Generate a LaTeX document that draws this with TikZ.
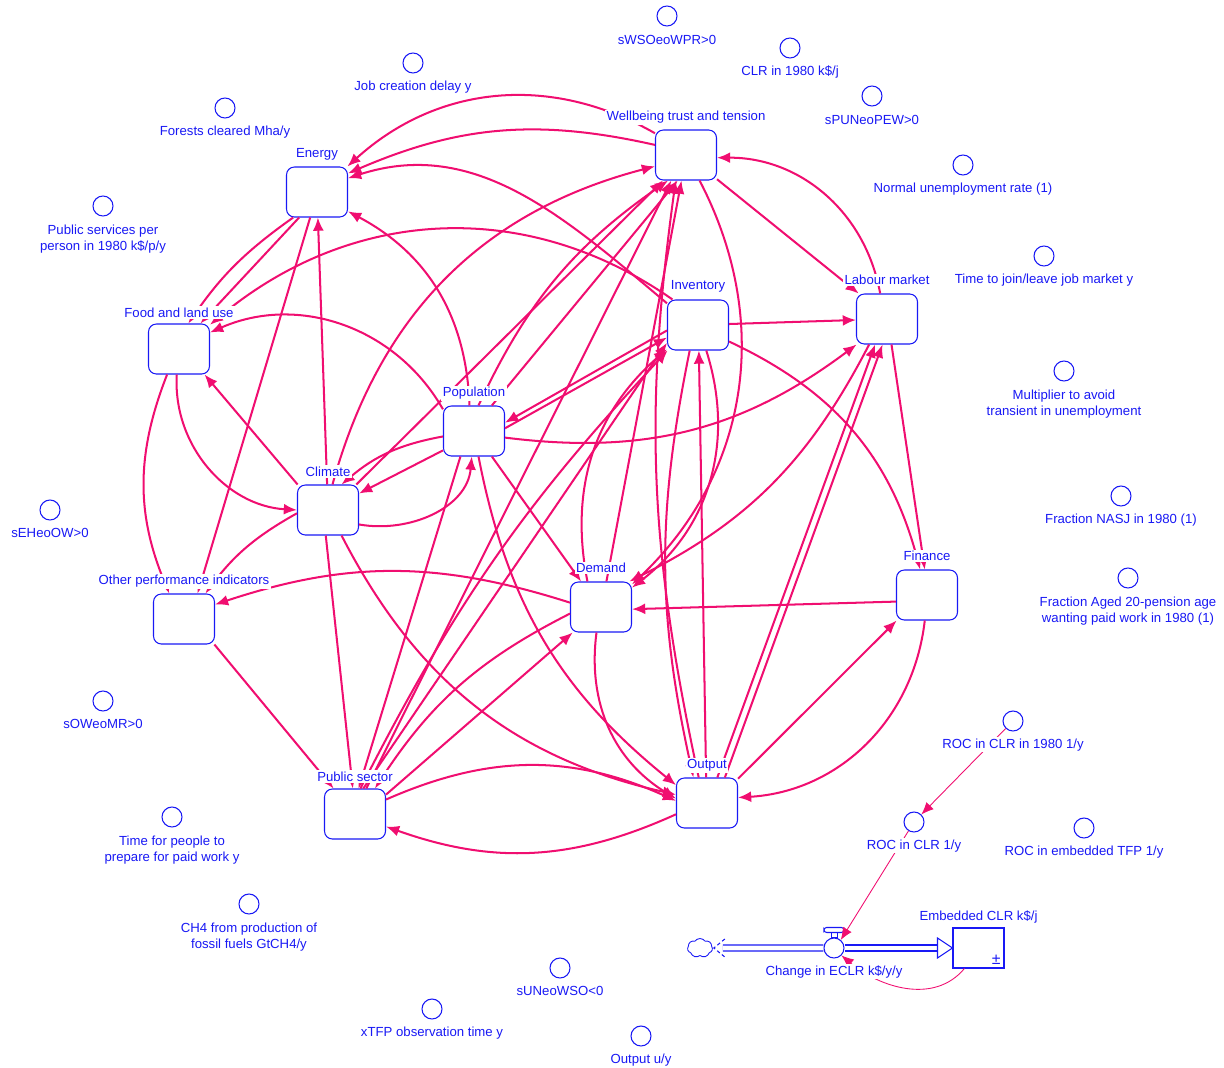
\documentclass[tikz,border=0pt]{standalone}
\usepackage{fontspec}
\setmainfont{Liberation Sans}
\usetikzlibrary{positioning,calc,arrows.meta,shapes.symbols}
\definecolor{vblue}{RGB}{25,25,245}
\definecolor{linkpink}{RGB}{240,14,112}
\newcommand\vsfont{\fontsize{7.5}{9}\selectfont}
\tikzset{
  sector/.style={draw=vblue, line width=0.6pt, rounded corners=4.5pt, fill=white,
    minimum width=1.22cm, minimum height=1cm, inner sep=0pt},
  sname/.style={text=vblue, fill=white, inner sep=0.8pt, font=\vsfont, align=center},
  aux/.style={circle, draw=vblue, line width=0.6pt, fill=white, minimum size=0.4cm, inner sep=0pt},
  link/.style={draw=linkpink, line width=1.15pt, -{Latex[length=7.5pt,width=6.2pt]}},
  thinlink/.style={draw=linkpink, line width=0.5pt, -{Latex[length=7pt,width=5.8pt]}},
  pipe/.style={draw=vblue, double=white, double distance=2.8pt, line width=0.6pt},
}
\begin{document}
\begin{tikzpicture}[x=0.02cm, y=-0.02cm]
\useasboundingbox (0,0) rectangle (1224,1068);

% sectors
\node[sector] (en) at (317,192) {};
\node[sector] (wb) at (686,155) {};
\node[sector] (fl) at (179,349) {};
\node[sector] (inv) at (698,325) {};
\node[sector] (lm) at (887,319) {};
\node[sector] (pop) at (474,431) {};
\node[sector] (cl) at (328,510) {};
\node[sector] (dem) at (601,607) {};
\node[sector] (fin) at (927,595) {};
\node[sector] (opi) at (184,619) {};
\node[sector] (ps) at (355,814) {};
\node[sector] (out) at (707,803) {};

% auxiliaries
\node[aux] (wso) at (667,16) {};
\node[aux] (clr80) at (790,48) {};
\node[aux] (jcd) at (413,63) {};
\node[aux] (pun) at (872,96) {};
\node[aux] (forest) at (225,108) {};
\node[aux] (nur) at (963,165) {};
\node[aux] (psp) at (103,206) {};
\node[aux] (tjl) at (1044,256) {};
\node[aux] (mult) at (1064,371) {};
\node[aux] (nasj) at (1121,496) {};
\node[aux] (eh) at (50,510) {};
\node[aux] (aged) at (1128,578) {};
\node[aux] (ow) at (103,701) {};
\node[aux] (roc80) at (1013,721) {};
\node[aux] (roc) at (914,822) {};
\node[aux] (roctfp) at (1084,828) {};
\node[aux] (tpp) at (172,817) {};
\node[aux] (ch4) at (249,904) {};
\node[aux] (une) at (560,968) {};
\node[aux] (xtfp) at (432,1009) {};
\node[aux] (outu) at (641,1036) {};

% stock and flow
\node[cloud, cloud puffs=7, cloud puff arc=110, draw=vblue, line width=0.5pt,
  minimum width=0.5cm, minimum height=0.38cm, inner sep=0pt] (src) at (700,948) {};
\node[aux] (valve) at (834,948) {};
\node[draw=vblue, line width=0.6pt, minimum width=1.02cm, minimum height=0.8cm] (stock) at (978.5,948) {};
\node[text=vblue, font=\fontsize{9}{10}\selectfont, anchor=south east, inner sep=2pt] (pm) at (stock.south east) {±};
\coordinate (pipestart) at ($(src.east)+(10,0)$);
\coordinate (tipbase) at ($(stock.west)+(-15,0)$);
\draw[pipe] (pipestart) -- (valve.west);
\draw[pipe] (valve.east) -- (tipbase);
\draw[draw=vblue, fill=white, line width=0.6pt] ($(tipbase)+(0,-10)$) -- (stock.west) -- ($(tipbase)+(0,10)$) -- cycle;
\draw[draw=vblue, line width=0.6pt, dashed, dash pattern=on 2pt off 1.5pt] ($(pipestart)+(2,-9)$) -- ($(src.east)+(1,0)$) -- ($(pipestart)+(2,9)$);
\draw[draw=vblue, line width=0.5pt] ($(valve.north)+(-3,0)$) rectangle ($(valve.north)+(3,-5)$);
\draw[draw=vblue, line width=0.6pt, fill=white, rounded corners=1.5pt] ($(valve.north)+(-10,-5)$) rectangle ($(valve.north)+(10,-10)$);

% links
\draw[link] (wb.145) to[bend right=36] (en.40);
\draw[link] (wb.162) to[bend right=18] (en.31);
\draw[link] (inv.145) to[out=140, in=18] (en.24);
\draw[link] (cl) -- (en);
\draw[link] (pop.100) to[bend right=30] (en.-32);
\draw[link] (en.-105) -- (opi.62);
\draw[link] (en.-133) to[bend right=10] (fl.70);
\draw[link] (en.-125) -- (fl.50);
\draw[link] (inv.135) to[out=145, in=40] (fl.38);
\draw[link] (pop.145) to[bend right=42] (fl.28);
\draw[link] (cl.140) -- (fl.-45);
\draw[link] (fl.-95) to[bend right=45] (cl.180);
\draw[link] (fl.-115) to[bend right=22] (opi.120);
\draw[link] (pop.-148) -- (cl.28);
\draw[link] (cl.-25) to[out=-10, in=-95] (pop.-95);
\draw[link] (pop.-170) to[bend right=15] (cl.62);
\draw[link] (cl.80) to[bend left=30] (wb.-160);
\draw[link] (cl.42) -- (wb.-132);
\draw[link] (cl.-174) to[bend right=12] (opi.50);
\draw[link] (cl.-95) -- (ps.95);
\draw[link] (cl.-62) to[bend right=25] (out.165);
\draw[link] (pop.-12) to[bend right=22] (lm.-140);
\draw[link] (pop.-55) -- (dem.128);
\draw[link] (pop.-80) to[bend right=20] (out.150);
\draw[link] (pop.80) to[bend left=15] (wb.-125);
\draw[link] (pop.55) -- (wb.-108);
\draw[link] (inv.-170) -- (pop.15);
\draw[link] (pop.5) -- (inv.-158);
\draw[link] (ps.72) -- (inv.-150);
\draw[link] (ps.78) to[bend left=8] (inv.-140);
\draw[link] (ps.66) -- (wb.-120);
\draw[link] (dem.118) to[bend left=30] (inv.-142);
\draw[link] (inv) -- (lm);
\draw[link] (inv.-28) to[bend left=25] (fin.105);
\draw[link] (out.92) -- (inv.-88);
\draw[link] (inv.-108) to[bend right=12] (out.118);
\draw[link] (inv.-72) to[bend left=35] (dem.32);
\draw[link] (dem.78) -- (wb.-100);
\draw[link] (wb.-62) to[bend left=37] (dem.36);
\draw[link] (out.108) to[bend left=10] (wb.-112);
\draw[link] (wb.-38) -- (lm.138);
\draw[link] (lm.105) to[bend right=40] (wb.-5);
\draw[link] (lm.-80) -- (fin.95);
\draw[link] (out.68) -- (lm.-115);
\draw[link] (out.55) -- (lm.-100);
\draw[link] (lm.-125) to[bend left=18] (dem.42);
\draw[link] (fin.-168) -- (dem.-4);
\draw[link] (out.38) -- (fin.-140);
\draw[link] (fin.-95) to[bend left=40] (out.10);
\draw[link] (dem.172) to[bend right=18] (opi.25);
\draw[link] (dem.-100) to[bend right=33] (out.172);
\draw[link] (ps.32) -- (dem.-138);
\draw[link] (dem.-168) to[bend right=15] (ps.52);
\draw[link] (out.-160) to[bend left=22] (ps.-22);
\draw[link] (ps.25) to[bend left=24] (out.176);
\draw[link] (opi.-40) -- (ps.130);
\draw[link] (pop.-118) -- (ps.82);

% thin links in the stock and flow part
\draw[thinlink] (roc80) -- (roc);
\draw[thinlink] (roc) -- (valve.50);
\draw[thinlink] ([xshift=6.8pt]stock.south west) to[out=-130, in=-40] (valve.-45);

% sector names
\node[sname, above=2.5pt of en] {Energy};
\node[sname, above=2.5pt of wb] {Wellbeing trust and tension};
\node[sname, above=2.5pt of fl] {Food and land use};
\node[sname, above=3pt of inv] {Inventory};
\node[sname, above=4pt of lm] {Labour market};
\node[sname, above=2.5pt of pop] {Population};
\node[sname, above=3.5pt of cl] {Climate};
\node[sname, above=4pt of dem] {Demand};
\node[sname, above=4pt of fin] {Finance};
\node[sname, above=2.5pt of opi] {Other performance indicators};
\node[sname, above=3pt of ps] {Public sector};
\node[sname, above=2.5pt of out] {Output};

% auxiliary names
\node[sname, below=4pt of wso] {sWSOeoWPR>0};
\node[sname, below=3pt of clr80] {CLR in 1980 k\$/j};
\node[sname, below=3pt of jcd] {Job creation delay y};
\node[sname, below=4pt of pun] {sPUNeoPEW>0};
\node[sname, below=3pt of forest] {Forests cleared Mha/y};
\node[sname, below=3pt of nur] {Normal unemployment rate (1)};
\node[sname, below=4pt of psp] {Public services per\\person in 1980 k\$/p/y};
\node[sname, below=3pt of tjl] {Time to join/leave job market y};
\node[sname, below=4pt of mult] {Multiplier to avoid\\transient in unemployment};
\node[sname, below=3pt of nasj] {Fraction NASJ in 1980 (1)};
\node[sname, below=3.5pt of eh] {sEHeoOW>0};
\node[sname, below=4pt of aged] {Fraction Aged 20-pension age\\wanting paid work in 1980 (1)};
\node[sname, below=3.5pt of ow] {sOWeoMR>0};
\node[sname, below=3pt of roc80] {ROC in CLR in 1980 1/y};
\node[sname, below=3pt of roc] {ROC in CLR 1/y};
\node[sname, below=3pt of roctfp] {ROC in embedded TFP 1/y};
\node[sname, below=4pt of tpp] {Time for people to\\prepare for paid work y};
\node[sname, below=4pt of ch4] {CH4 from production of\\fossil fuels GtCH4/y};
\node[sname, below=3.5pt of une] {sUNeoWSO<0};
\node[sname, below=3pt of xtfp] {xTFP observation time y};
\node[sname, below=3pt of outu] {Output u/y};
\node[sname, above=1.5pt of stock] {Embedded CLR k\$/j};
\node[sname, below=3pt of valve] {Change in ECLR k\$/y/y};
\end{tikzpicture}
\end{document}
